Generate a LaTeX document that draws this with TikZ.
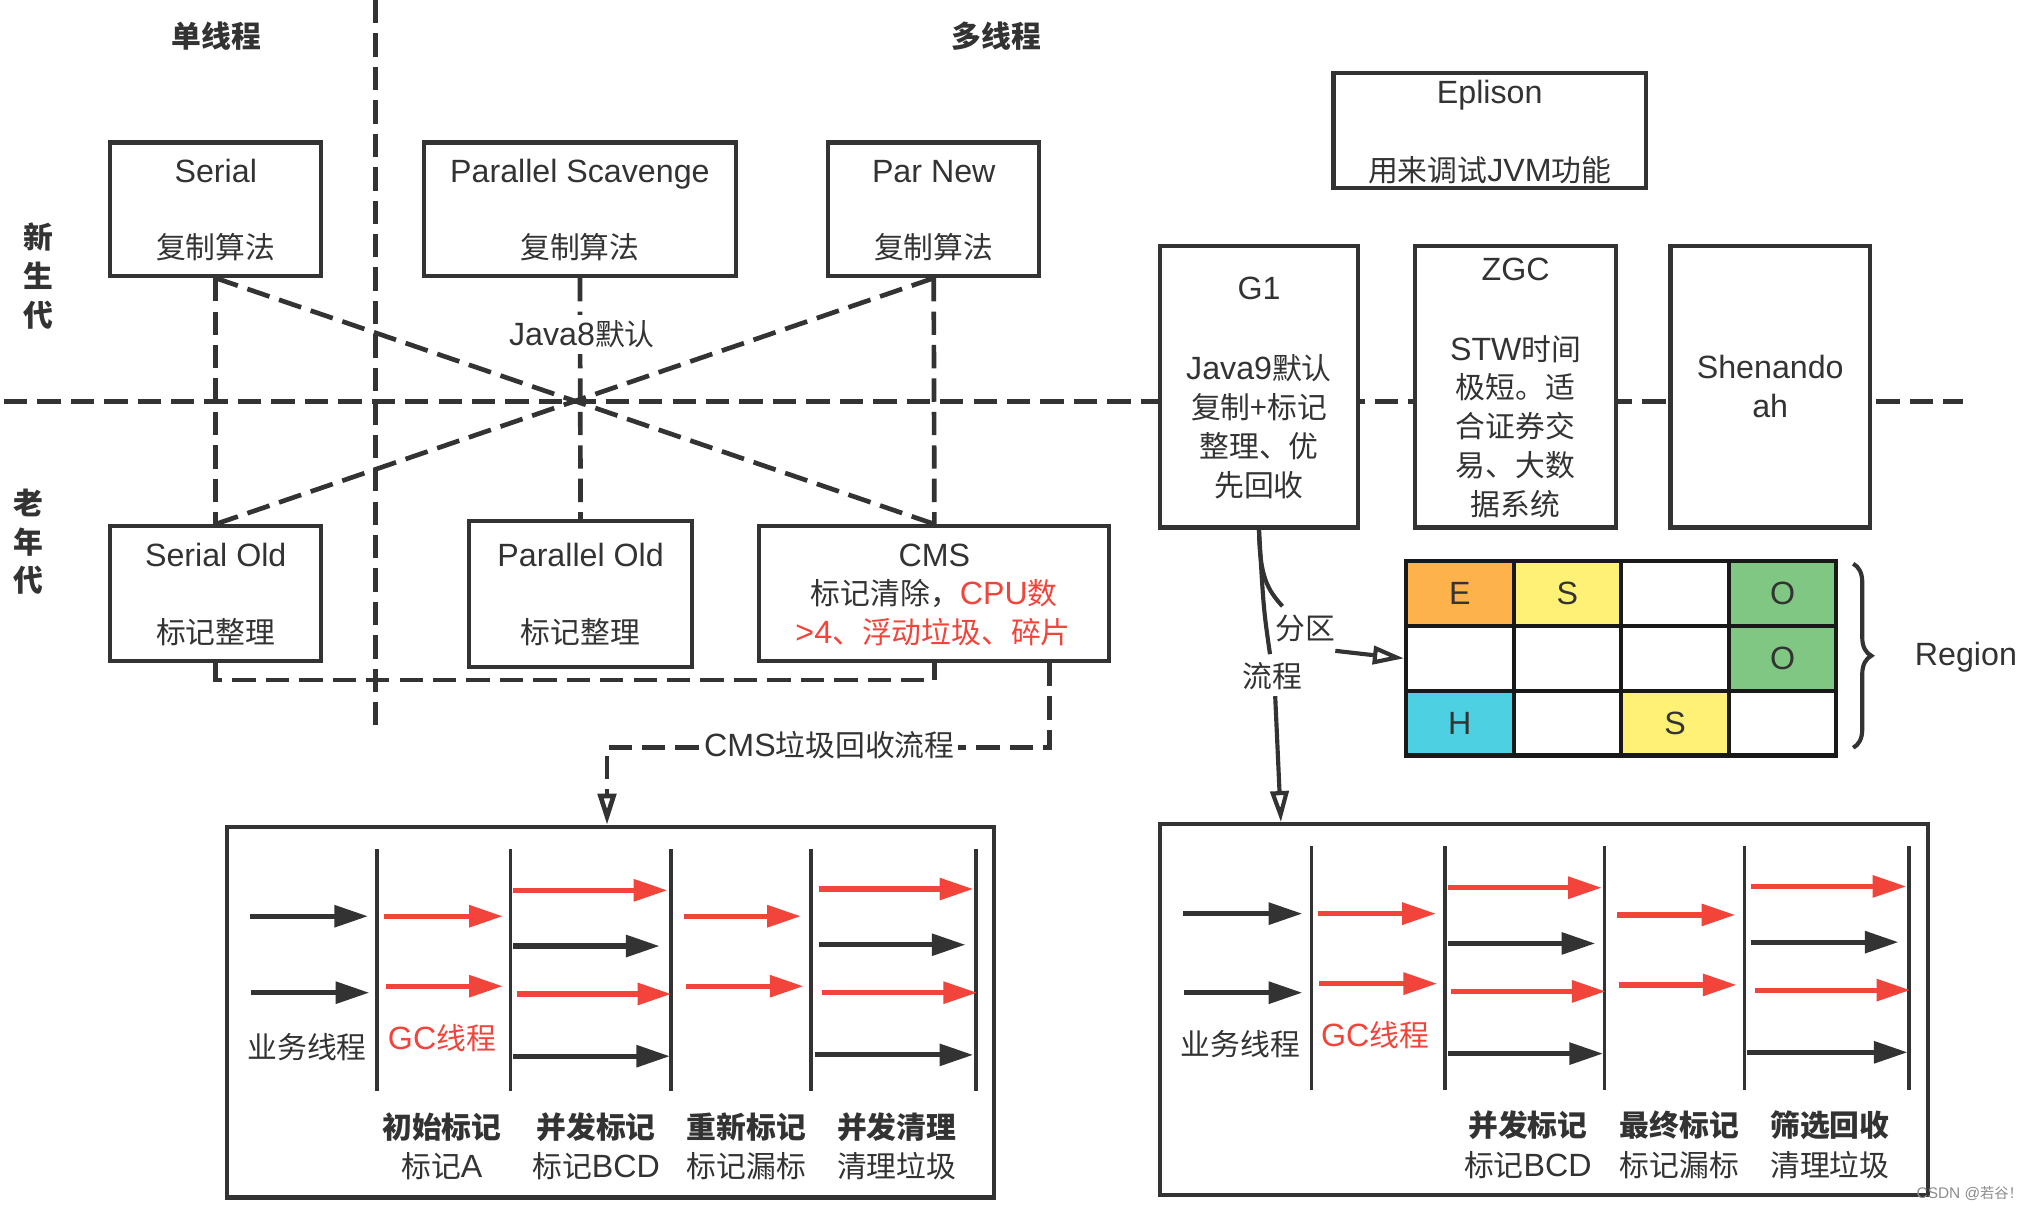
\documentclass[tikz,border=0pt]{standalone}
\usepackage{fontspec}
\setmainfont{Liberation Sans}[Scale=1.08]
\newfontfamily\zh{Noto Sans CJK SC}
\usetikzlibrary{arrows.meta,calc,decorations.pathreplacing}
\pgfdeclarelayer{bg}
\pgfsetlayers{bg,main}
\definecolor{lc}{HTML}{333333}
\definecolor{rd}{HTML}{F2443A}
\definecolor{orng}{HTML}{FDB24C}
\definecolor{yel}{HTML}{FFF176}
\definecolor{grn}{HTML}{81C784}
\definecolor{cyn}{HTML}{4DD0E1}
\newcommand\z[1]{{\zh #1}}
\begin{document}
\begin{tikzpicture}[x=0.5pt,y=-0.5pt,
 every node/.style={font=\fontsize{11.5pt}{15pt}\selectfont,text=lc},
 t/.style={inner sep=0pt,text height=8.8pt,text depth=0pt},
 hd/.style={t,font=\fontsize{11.5pt}{15pt}\selectfont\zh\bfseries},
 box/.style={draw=lc,line width=1.6pt,fill=white,inner sep=0pt},
 cell/.style={t,draw=black!90,line width=1.6pt,minimum width=41.5pt,minimum height=25pt},
 dsh/.style={draw=lc,line width=1.8pt,dash pattern=on 9pt off 3.9pt},
 conn/.style={draw=lc,line width=1.6pt},
 otip/.style={-{Triangle[open,length=12pt,width=7pt]}},
 lbl/.style={t,fill=white,inner xsep=1.5pt,inner ysep=3pt},
 bar/.style={draw=lc,line width=2pt,-{Triangle[length=13pt,width=8.2pt]}},
 rar/.style={draw=rd,line width=2pt,-{Triangle[length=13pt,width=8.2pt]}},
 stage/.style={draw=lc,line width=1.4pt},
]
\useasboundingbox (0,0) rectangle (1568,934);
\begin{pgfonlayer}{bg}
\fill[white] (0,0) rectangle (1568,934);
\draw[dsh] (3,310) -- (1515,310);
\draw[dsh] (290,0) -- (290,560);
\end{pgfonlayer}

% headings
\node[hd] (st) at (167,28) {单线程};
\node[hd] (mt) at (769,28) {多线程};
\node[hd] (x1) at (30,183) {新};
\node[hd] (x2) at (30,213) {生};
\node[hd] (x3) at (30,243) {代};
\node[hd] (o1) at (22,388) {老};
\node[hd] (o2) at (22,418) {年};
\node[hd] (o3) at (22,448) {代};

% young generation boxes
\node[box,minimum width=81.5pt,minimum height=51.5pt] (serial) at (166.5,161.5) {};
\node[t] (serialA) at (166.5,132) {Serial};
\node[t] (serialB) at (166.5,191) {\z{复制算法}};
\node[box,minimum width=120.5pt,minimum height=51.5pt] (ps) at (447.5,161.5) {};
\node[t] (psA) at (447.5,132) {Parallel Scavenge};
\node[t] (psB) at (447.5,191) {\z{复制算法}};
\node[box,minimum width=81.5pt,minimum height=51.5pt] (parnew) at (720.5,161.5) {};
\node[t] (parnewA) at (720.5,132) {Par New};
\node[t] (parnewB) at (720.5,191) {\z{复制算法}};

% old generation boxes
\node[box,minimum width=81.5pt,minimum height=52pt] (serialold) at (166.5,458) {};
\node[t] (soA) at (166.5,428) {Serial Old};
\node[t] (soB) at (166.5,488) {\z{标记整理}};
\node[box,minimum width=86pt,minimum height=56.5pt] (pold) at (448,458.5) {};
\node[t] (poA) at (448,428) {Parallel Old};
\node[t] (poB) at (448,488) {\z{标记整理}};
\node[box,minimum width=135pt,minimum height=52pt] (cms) at (721,458) {};
\node[t] (cmsA) at (721,428) {CMS};
\node[t] (cmsB) at (721,458) {\z{标记清除，}\textcolor{rd}{CPU\z{数}}};
\node[t,text=rd] (cmsC) at (720,488) {>4\z{、浮动垃圾、碎片}};

% right boxes
\node[box,minimum width=120.5pt,minimum height=44.5pt] (eps) at (1149.5,100.5) {};
\node[t] (epsA) at (1149.5,71) {Eplison};
\node[t] (epsB) at (1149.5,131) {\z{用来调试}JVM\z{功能}};
\node[box,minimum width=76.5pt,minimum height=108.5pt] (g1) at (971.5,298.5) {};
\node[t] (g1A) at (971.5,222) {G1};
\node[t] (g1B) at (971.5,284) {Java9\z{默认}};
\node[t] (g1C) at (971.5,314) {\z{复制+标记}};
\node[t] (g1D) at (971.5,344) {\z{整理、优}};
\node[t] (g1E) at (971.5,374) {\z{先回收}};
\node[box,minimum width=77.5pt,minimum height=108.5pt] (zgc) at (1169.5,298.5) {};
\node[t] (zgcA) at (1169.5,208) {ZGC};
\node[t] (zgcB) at (1169.5,269) {STW\z{时间}};
\node[t] (zgcC) at (1169.5,299) {\z{极短。适}};
\node[t] (zgcD) at (1169.5,329) {\z{合证券交}};
\node[t] (zgcE) at (1169.5,359) {\z{易、大数}};
\node[t] (zgcF) at (1169.5,389) {\z{据系统}};
\node[box,minimum width=77pt,minimum height=108.5pt] (shen) at (1366,298.5) {};
\node[t] (shenA) at (1366,283) {Shenando};
\node[t] (shenB) at (1366,313) {ah};

% region grid
\node[cell,fill=orng] (c11) at (1126.5,458) {E};
\node[cell,fill=yel] (c12) at (1209.5,458) {S};
\node[cell] (c13) at (1292.5,458) {};
\node[cell,fill=grn] (c14) at (1375.5,458) {O};
\node[cell] (c21) at (1126.5,508) {};
\node[cell] (c22) at (1209.5,508) {};
\node[cell] (c23) at (1292.5,508) {};
\node[cell,fill=grn] (c24) at (1375.5,508) {O};
\node[cell,fill=cyn] (c31) at (1126.5,558) {H};
\node[cell] (c32) at (1209.5,558) {};
\node[cell,fill=yel] (c33) at (1292.5,558) {S};
\node[cell] (c34) at (1375.5,558) {};
\draw[conn,decorate,decoration={brace,amplitude=7pt}] (1430,435) -- (1430,577);
\node[t] (region) at (1517,505) {Region};

% flow boxes
\node[box,minimum width=296pt,minimum height=143pt] (cmsflow) at (471,781) {};
\node[box,minimum width=296.5pt,minimum height=143pt] (g1flow) at (1191.5,779) {};

% labels on connectors
\node[lbl] (j8) at (449,258) {Java8\z{默认}};
\node[lbl] (cmsl) at (640,575) {CMS\z{垃圾回收流程}};
\node[t] (fq) at (1007,485) {\z{分区}};
\node[t] (lcn) at (982,522) {\z{流程}};

\begin{pgfonlayer}{bg}
\draw[dsh] (serial.south) -- (serialold.north);
\draw[dsh] (serial.south) -- (cms.north);
\draw[dsh] (ps.south) -- (pold.north);
\draw[dsh] (parnew.south) -- (cms.north);
\draw[dsh] (parnew.south) -- (serialold.north);
\draw[dsh] (serialold.south) -- ++(0,13) -| (cms.south);
\draw[dsh,otip] ($(cms.south east)+(-48,0)$) -- ++(0,65) -| ($(cmsflow.north west)+(295,0)$);
\end{pgfonlayer}

% G1 connectors
\draw[conn] (g1.south) .. controls (972,445) and (978,455) .. ($(fq.north west)+(6,-8)$);
\draw[conn,otip] ($(fq.south east)+(0,8)$) .. controls (1055,505) .. (c21.west);
\draw[conn] (g1.south) .. controls (975,470) .. ($(lcn.north)+(-2,-8)$);
\draw[conn,otip] ($(lcn.south)+(2,6)$) -- ($(g1flow.north west)+(95,0)$);

% CMS flow content
\foreach \x in {291,394,518,626,753} \draw[stage] (\x,655) -- (\x,842);
\foreach \a/\b/\y in {193/284/707,194/285/766,396/509/730,396/517/815,632/745/729,629/751/814}
  \draw[bar] (\a,\y) -- (\b,\y);
\foreach \a/\b/\y in {296/388/707,298/388/761,396/515/687,399/518/767,528/618/707,529/620/761,632/751/686,634/754/766}
  \draw[rar] (\a,\y) -- (\b,\y);
\node[t] (cb1) at (237,808) {\z{业务线程}};
\node[t,text=rd] (cb2) at (341,801) {GC\z{线程}};
\node[hd] (cb3) at (341,870) {初始标记};
\node[hd] (cb4) at (460,870) {并发标记};
\node[hd] (cb5) at (576,870) {重新标记};
\node[hd] (cb6) at (692,870) {并发清理};
\node[t] (cb7) at (341,900) {\z{标记}A};
\node[t] (cb8) at (460,900) {\z{标记}BCD};
\node[t] (cb9) at (576,900) {\z{标记漏标}};
\node[t] (cb10) at (692,900) {\z{清理垃圾}};

% G1 flow content
\foreach \x in {1012,1115,1238,1346,1473} \draw[stage] (\x,653) -- (\x,841);
\foreach \a/\b/\y in {913/1005/705,914/1005/766,1117/1231/728,1117/1237/813,1351/1465/727,1348/1472/812}
  \draw[bar] (\a,\y) -- (\b,\y);
\foreach \a/\b/\y in {1017/1108/705,1018/1109/759,1117/1236/685,1120/1239/765,1248/1339/706,1249/1340/760,1351/1471/684,1354/1474/764}
  \draw[rar] (\a,\y) -- (\b,\y);
\node[t] (gb1) at (957,806) {\z{业务线程}};
\node[t,text=rd] (gb2) at (1061,799) {GC\z{线程}};
\node[hd] (gb3) at (1179,868) {并发标记};
\node[hd] (gb4) at (1296,868) {最终标记};
\node[hd] (gb5) at (1412,868) {筛选回收};
\node[t] (gb6) at (1179,899) {\z{标记}BCD};
\node[t] (gb7) at (1296,899) {\z{标记漏标}};
\node[t] (gb8) at (1412,899) {\z{清理垃圾}};

\node[inner sep=0pt,text=black!45,font=\fontsize{5.5pt}{6pt}\selectfont] (wm) at (1520,921) {CSDN @\z{若谷！}};
\end{tikzpicture}
\end{document}
